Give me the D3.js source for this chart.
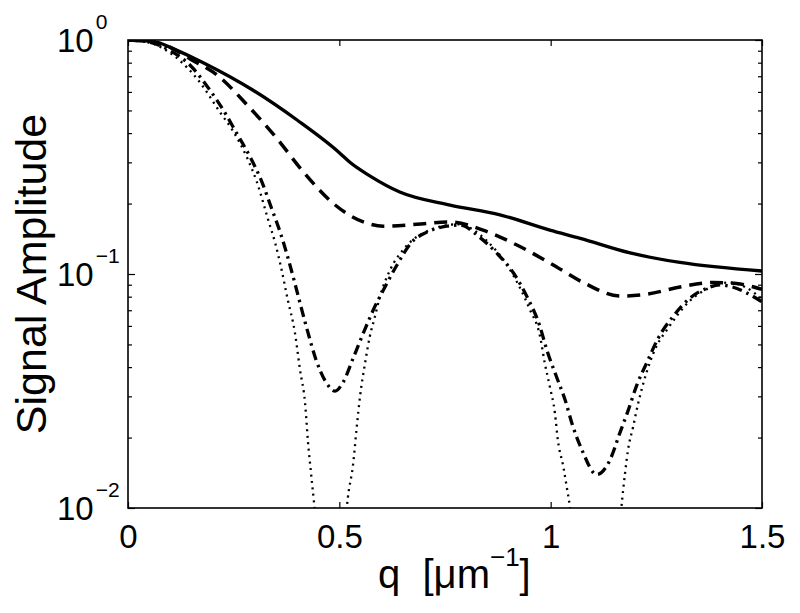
<!DOCTYPE html>
<html>
<head>
<meta charset="utf-8">
<script src="https://cdn.jsdelivr.net/npm/d3@7"></script>
<style>
  body { margin: 0; background: #fff; }
  text { font-family: "Liberation Sans", Arial, Helvetica, sans-serif; fill: #000; }
</style>
</head>
<body>
<svg width="800" height="613"></svg>
<script>
// ticks
const xTicks = [0, 0.5, 1, 1.5];
const xTickLabels = ["0", "0.5", "1", "1.5"];
const yMajor = [0.01, 0.1, 1];
const yExp = ["\u22122", "\u22121", "0"];
const yMinor = [0.02, 0.03, 0.04, 0.05, 0.06, 0.07, 0.08, 0.09,
                0.2, 0.3, 0.4, 0.5, 0.6, 0.7, 0.8, 0.9];

// solid curve
const solidQ = [0, 0.05, 0.076, 0.1, 0.178, 0.296, 0.4, 0.5, 0.525, 0.573, 0.643, 0.762, 0.88, 0.998, 1.07, 1.188, 1.306, 1.5];
const solidA = [1, 0.99, 0.97, 0.93, 0.80, 0.61, 0.455, 0.33, 0.30, 0.262, 0.224, 0.197, 0.179, 0.154, 0.142, 0.123, 0.112, 0.103];

// dashed curve
const dashQ = [0, 0.05, 0.1, 0.147, 0.21, 0.281, 0.352, 0.415, 0.486, 0.525, 0.565, 0.604, 0.683, 0.762, 0.84, 0.92, 1.0, 1.077, 1.164, 1.228, 1.306, 1.385, 1.44, 1.5];
const dashA = [1, 0.985, 0.93, 0.83, 0.71, 0.53, 0.38, 0.273, 0.20, 0.178, 0.165, 0.16, 0.163, 0.167, 0.154, 0.133, 0.111, 0.092, 0.0805, 0.082, 0.088, 0.092, 0.091, 0.086];

// dash-dot curve
const dashDotQ = [0, 0.05, 0.1, 0.147, 0.194, 0.226, 0.257, 0.289, 0.317, 0.34, 0.36, 0.378, 0.395, 0.41, 0.426, 0.445, 0.468, 0.49, 0.509, 0.533, 0.557, 0.58, 0.608, 0.636, 0.67, 0.707, 0.754, 0.785, 0.833, 0.872, 0.912, 0.944, 0.975, 0.991, 1.014, 1.034, 1.053, 1.074, 1.109, 1.14, 1.164, 1.183, 1.204, 1.228, 1.254, 1.29, 1.33, 1.37, 1.40, 1.43, 1.464, 1.5];
const dashDotA = [1, 0.98, 0.9, 0.78, 0.61, 0.50, 0.40, 0.316, 0.247, 0.19, 0.151, 0.118, 0.091, 0.0716, 0.056, 0.0429, 0.0346, 0.0316, 0.0345, 0.0438, 0.056, 0.070, 0.088, 0.109, 0.136, 0.151, 0.16, 0.162, 0.143, 0.123, 0.101, 0.080, 0.0594, 0.0473, 0.0363, 0.029, 0.0222, 0.0177, 0.0139, 0.016, 0.021, 0.026, 0.0336, 0.042, 0.053, 0.066, 0.079, 0.087, 0.0898, 0.088, 0.083, 0.076];

// dotted curve (goes to zero twice, below the axis)
const dotQ = [0, 0.05, 0.111, 0.17, 0.218, 0.248, 0.281, 0.305, 0.331, 0.348, 0.362, 0.378, 0.395, 0.407, 0.419, 0.426, 0.433, 0.44, 0.46, 0.48, 0.50, 0.52, 0.533, 0.541, 0.549, 0.561, 0.572, 0.584, 0.596, 0.62, 0.651, 0.70, 0.78, 0.85, 0.90, 0.95, 0.975, 0.986, 0.998, 1.01, 1.017, 1.03, 1.038, 1.046, 1.07, 1.11, 1.15, 1.169, 1.176, 1.183, 1.195, 1.207, 1.219, 1.235, 1.25, 1.275, 1.33, 1.38, 1.42, 1.46, 1.5];
const dotA = [1, 0.975, 0.85, 0.66, 0.49, 0.41, 0.316, 0.247, 0.172, 0.136, 0.107, 0.0776, 0.056, 0.0389, 0.028, 0.019, 0.0141, 0.0106, 0.004, 0.001, 0.004, 0.011, 0.0156, 0.022, 0.030, 0.0417, 0.054, 0.0655, 0.080, 0.104, 0.127, 0.150, 0.163, 0.138, 0.107, 0.071, 0.054, 0.0417, 0.033, 0.0255, 0.0195, 0.015, 0.0123, 0.01, 0.004, 0.001, 0.004, 0.0108, 0.0141, 0.0177, 0.0222, 0.028, 0.034, 0.042, 0.049, 0.0577, 0.077, 0.088, 0.092, 0.088, 0.078];

const svg = d3.select("svg");
const margin = {top: 40, right: 38, bottom: 105, left: 128};
const width = 800 - margin.left - margin.right,
      height = 613 - margin.top - margin.bottom;

const g = svg.append("g").attr("transform", `translate(${margin.left},${margin.top})`);

const x = d3.scaleLinear().domain([0, 1.5]).range([0, width]);
const y = d3.scaleLog().domain([0.01, 1]).range([height, 0]);

g.append("clipPath").attr("id", "clip")
  .append("rect").attr("width", width).attr("height", height);

const line = d3.line()
  .x(d => x(d[0]))
  .y(d => y(d[1]))
  .curve(d3.curveMonotoneX);

const series = [
  {q: dotQ, a: dotA, dash: "2,4.5", w: 2.3},
  {q: dashDotQ, a: dashDotA, dash: "10,5,2.5,5", w: 3.3},
  {q: dashQ, a: dashA, dash: "13,8", w: 3.5},
  {q: solidQ, a: solidA, dash: null, w: 3.3}
];

g.append("g").attr("clip-path", "url(#clip)")
  .selectAll("path")
  .data(series)
  .enter().append("path")
  .attr("d", s => line(d3.zip(s.q, s.a)))
  .attr("fill", "none")
  .attr("stroke", "#000")
  .attr("stroke-width", s => s.w)
  .attr("stroke-dasharray", s => s.dash);

// ticks inside the box
const noDomain = sel => sel.select(".domain").remove();

g.append("g").attr("transform", `translate(0,${height})`)
  .call(d3.axisBottom(x).tickValues(xTicks).tickSize(-6).tickPadding(17)
        .tickFormat((d, i) => xTickLabels[i]))
  .call(noDomain)
  .call(s => s.selectAll("text").style("font-size", "33px")
        .style("font-family", "'Liberation Sans', Arial, sans-serif"));

g.append("g")
  .call(d3.axisTop(x).tickValues(xTicks).tickSize(-6).tickFormat(""))
  .call(noDomain);

g.append("g").call(d3.axisLeft(y).tickValues(yMajor).tickSize(-7).tickFormat("")).call(noDomain);
g.append("g").call(d3.axisLeft(y).tickValues(yMinor).tickSize(-4).tickFormat("")).call(noDomain);
g.append("g").attr("transform", `translate(${width},0)`)
  .call(d3.axisRight(y).tickValues(yMajor).tickSize(-7).tickFormat("")).call(noDomain);
g.append("g").attr("transform", `translate(${width},0)`)
  .call(d3.axisRight(y).tickValues(yMinor).tickSize(-4).tickFormat("")).call(noDomain);

g.selectAll(".tick line").attr("stroke-width", 1.2);

// y tick labels 10^n
yMajor.forEach((v, i) => {
  const t = svg.append("text")
    .attr("x", 57)
    .attr("y", margin.top + y(v) + 12)
    .style("font-size", "33px");
  t.append("tspan").text("10");
  t.append("tspan").attr("dy", -23).attr("dx", 2).style("font-size", "21px").text(yExp[i]);
});

// box
g.append("rect")
  .attr("width", width).attr("height", height)
  .attr("fill", "none").attr("stroke", "#000").attr("stroke-width", 1.6);

// axis titles
svg.append("text")
  .attr("transform", `translate(46,${margin.top + height / 2}) rotate(-90)`)
  .attr("text-anchor", "middle")
  .style("font-size", "43px")
  .text("Signal Amplitude");

const xl = svg.append("text")
  .attr("x", 378).attr("y", 588)
  .style("font-size", "40px")
  .attr("xml:space", "preserve");
xl.append("tspan").text("q  [\u03bcm");
xl.append("tspan").attr("dy", -22).style("font-size", "26px").text("\u22121");
xl.append("tspan").attr("dy", 22).text("]");
</script>
</body>
</html>
